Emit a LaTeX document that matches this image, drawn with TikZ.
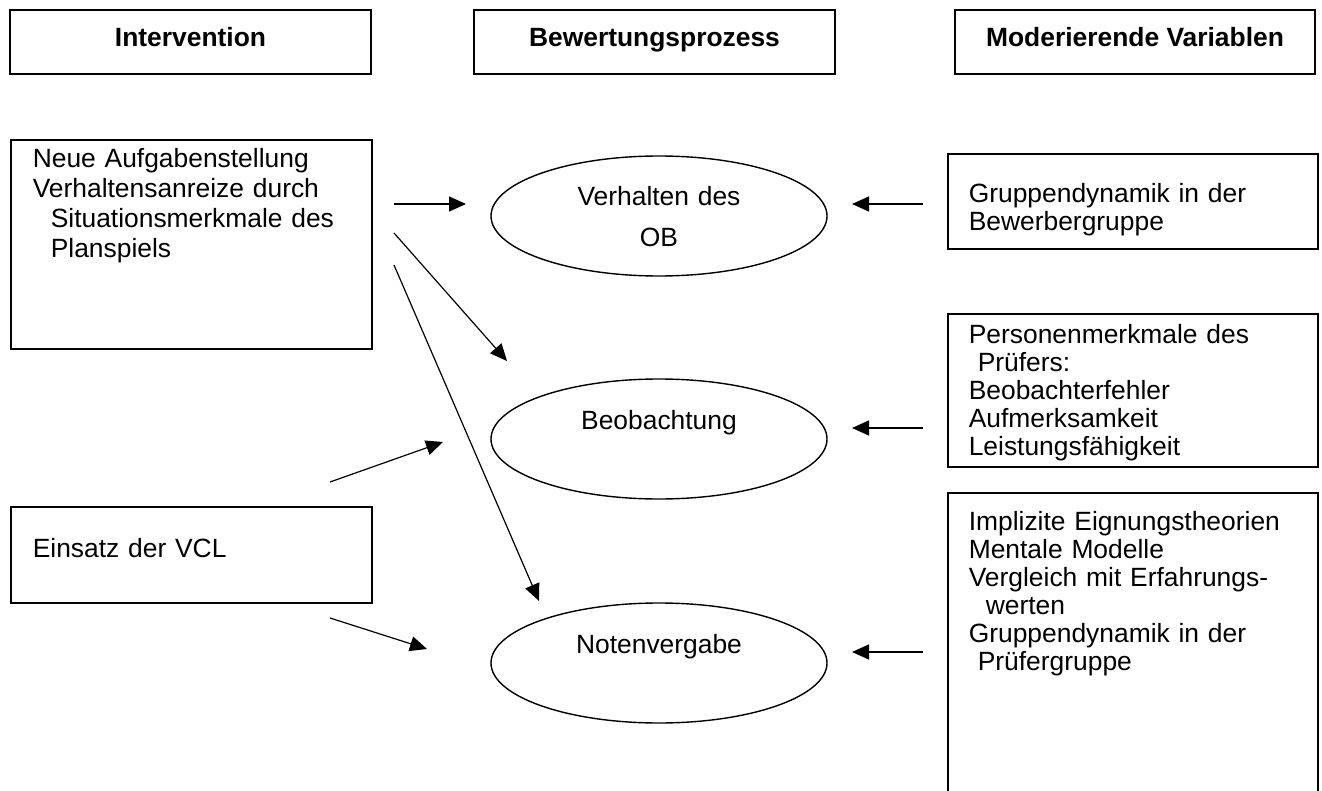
\documentclass[tikz,border=0pt]{standalone}
\usepackage{fontspec}
\setmainfont{Liberation Sans}
\usetikzlibrary{arrows.meta,shapes.geometric}
\tikzset{
  arr/.style={-{Triangle[length=8.5pt,width=7.5pt]},line width=0.6pt},
  head/.style={rectangle,draw,line width=0.9pt,minimum width=180.5pt,inner sep=0pt,
    text height=18.5pt,text depth=13.5pt,anchor=north,
    font=\fontsize{13.2}{15}\selectfont\bfseries},
  lbox/.style={rectangle,draw,line width=0.8pt,anchor=north west,inner xsep=11pt,
    inner ysep=0pt,text width=158.5pt,align=left,font=\fontsize{13.2}{15}\selectfont},
  rbox/.style={lbox,inner xsep=10.5pt,text width=164pt,font=\fontsize{13.2}{14}\selectfont},
  proc/.style={ellipse,draw,line width=0.7pt,minimum width=168pt,minimum height=60pt,
    text width=110pt,align=center,text height=2pt,text depth=12pt,
    font=\fontsize{13.2}{20.5}\selectfont},
}
\begin{document}
\begin{tikzpicture}[x=0.5pt,y=-0.5pt]
\useasboundingbox (0,0) rectangle (1322,791);
\clip (0,0) rectangle (1322,791);

% column heads
\node[head] (hint) at (190.5,9) {Intervention};
\node[head] (hbew) at (654.5,9) {Bewertungsprozess};
\node[head,minimum width=180pt] (hmod) at (1135,9) {Moderierende Variablen};

% intervention
\node[lbox,text height=14pt,text depth=90.5pt] (aufg) at (10,139)
  {Neue Aufgabenstellung\\Verhaltensanreize durch\\\hspace*{9pt}Situationsmerkmale des\\\hspace*{9pt}Planspiels};
\node[lbox,text height=25.5pt,text depth=22.5pt] (vcl) at (10,506) {Einsatz der VCL};

% process
\node[proc] (verh) at (659,216) {Verhalten des\\OB};
\node[proc] (beob) at (659,439) {Beobachtung};
\node[proc] (note) at (659,663) {Notenvergabe};

% moderating variables
\node[rbox,text height=24.5pt,text depth=23pt] (bewg) at (947,153)
  {Gruppendynamik in der\\Bewerbergruppe};
\node[rbox,text height=15pt,text depth=61.5pt] (pruef) at (947,313)
  {Personenmerkmale des\\\hspace*{4.5pt}Prüfers:\\Beobachterfehler\\Aufmerksamkeit\\Leistungsfähigkeit};
\node[rbox,text height=19pt,text depth=135pt] (impl) at (947,492)
  {Implizite Eignungstheorien\\Mentale Modelle\\Vergleich mit Erfahrungs-\\\hspace*{8.5pt}werten\\Gruppendynamik in der\\\hspace*{4.5pt}Prüfergruppe};

% arrow ends
\coordinate (a1) at (394,204);  \coordinate (a1e) at (466,204);
\coordinate (a2) at (394,233);  \coordinate (a2e) at (507,361);
\coordinate (a3) at (394,265);  \coordinate (a3e) at (539,601);
\coordinate (v1) at (330,482);  \coordinate (v1e) at (443,442);
\coordinate (v2) at (330,618);  \coordinate (v2e) at (427,649);
\coordinate (m1) at (923,204);  \coordinate (m1e) at (852,204);
\coordinate (m2) at (923,428);  \coordinate (m2e) at (852,428);
\coordinate (m3) at (923,652);  \coordinate (m3e) at (852,652);

\draw[arr] (a1)--(a1e);
\draw[arr] (a2)--(a2e);
\draw[arr] (a3)--(a3e);
\draw[arr] (v1)--(v1e);
\draw[arr] (v2)--(v2e);
\draw[arr] (m1)--(m1e);
\draw[arr] (m2)--(m2e);
\draw[arr] (m3)--(m3e);
\end{tikzpicture}
\end{document}
